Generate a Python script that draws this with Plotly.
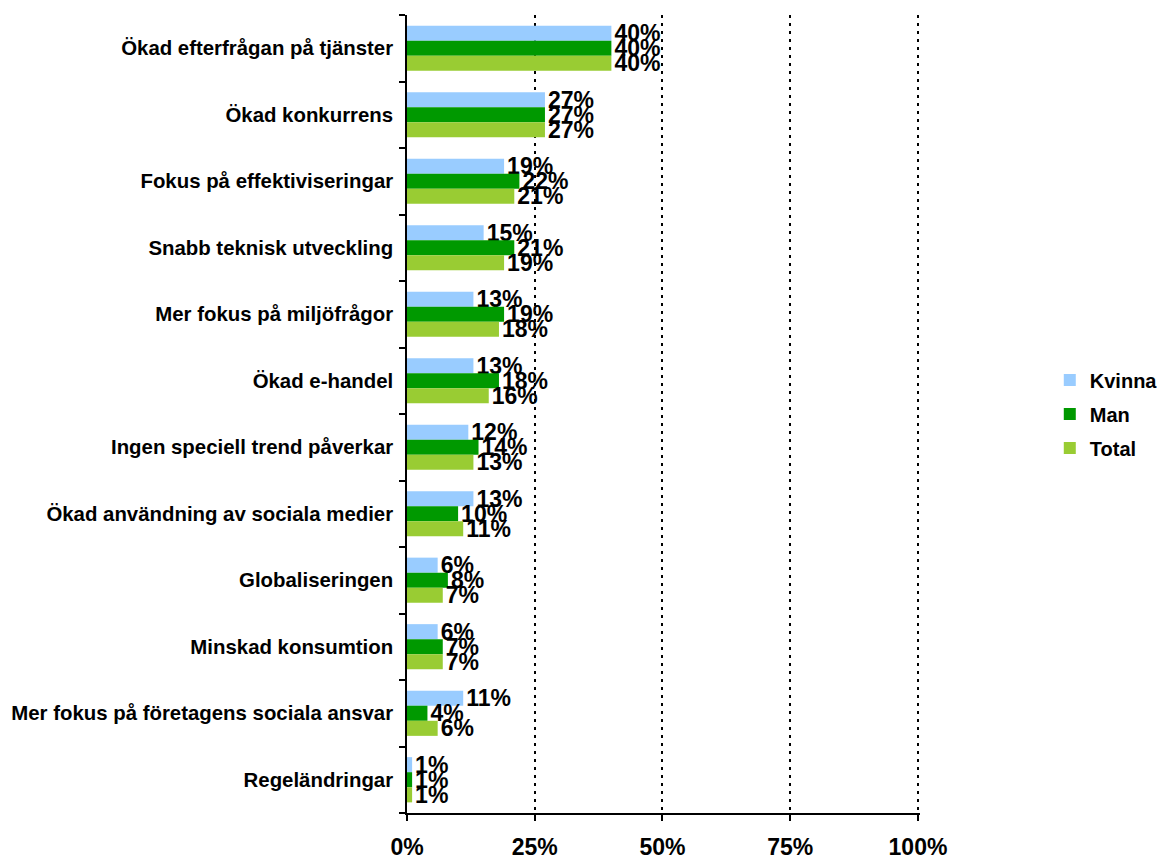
import plotly.graph_objects as go

categories = [
    "Ökad efterfrågan på tjänster",
    "Ökad konkurrens",
    "Fokus på effektiviseringar",
    "Snabb teknisk utveckling",
    "Mer fokus på miljöfrågor",
    "Ökad e-handel",
    "Ingen speciell trend påverkar",
    "Ökad användning av sociala medier",
    "Globaliseringen",
    "Minskad konsumtion",
    "Mer fokus på företagens sociala ansvar",
    "Regeländringar",
]
kvinna = [40, 27, 19, 15, 13, 13, 12, 13, 6, 6, 11, 1]
man = [40, 27, 22, 21, 19, 18, 14, 10, 8, 7, 4, 1]
total = [40, 27, 21, 19, 18, 16, 13, 11, 7, 7, 6, 1]
series = [("Kvinna", kvinna, "#99CCFF"), ("Man", man, "#009900"), ("Total", total, "#99CC33")]
xticks = [0, 25, 50, 75, 100]
xticklabels = ["0%", "25%", "50%", "75%", "100%"]

FONT = "Liberation Sans, Arial, sans-serif"

fig = go.Figure()
for name, vals, color in series:
    fig.add_trace(go.Bar(
        name=f"<b>{name}</b>", y=categories, x=vals, orientation="h",
        marker=dict(color=color, line=dict(width=0)),
        text=[f"<b>{v}%</b>" for v in vals], textposition="outside",
        textfont=dict(family=FONT, size=23, color="black"),
        constraintext="none", cliponaxis=False,
        legendgroup=name,
    ))

# the page body has an 8px margin, so the figure is shrunk by 8px and margins shifted
fig.update_layout(
    width=1157, height=850,
    margin=dict(l=399, r=245, t=7, b=45, autoexpand=False),
    barmode="group", bargap=0.32, bargroupgap=0,
    plot_bgcolor="white", paper_bgcolor="white",
    font=dict(family=FONT, color="black"),
    legend=dict(x=1.253, y=0.5, xanchor="left", yanchor="middle",
                font=dict(family=FONT, size=20, color="black"),
                itemwidth=30, tracegroupgap=5),
    showlegend=True,
)
fig.update_xaxes(
    range=[0, 100.4], tickvals=xticks, ticktext=[f"<b>{t}</b>" for t in xticklabels],
    tickfont=dict(family=FONT, size=23, color="black"),
    showgrid=True, gridcolor="black", gridwidth=2, griddash="3px,5px",
    showline=True, linecolor="black", linewidth=1.5,
    ticks="outside", ticklen=6, tickcolor="black", tickwidth=1.5,
    zeroline=False, ticklabelstandoff=7, automargin=False,
)
fig.update_yaxes(
    autorange="reversed", categoryorder="array", categoryarray=categories,
    ticktext=[f"<b>{c}</b>" for c in categories], tickvals=categories,
    tickfont=dict(family=FONT, size=20.4, color="black"),
    showline=True, linecolor="black", linewidth=1.5,
    ticks="outside", ticklen=6, tickcolor="black", tickwidth=1.5,
    tickson="boundaries", showgrid=False, ticklabelstandoff=8,
    automargin=False,
)
fig.write_html("out.html")
